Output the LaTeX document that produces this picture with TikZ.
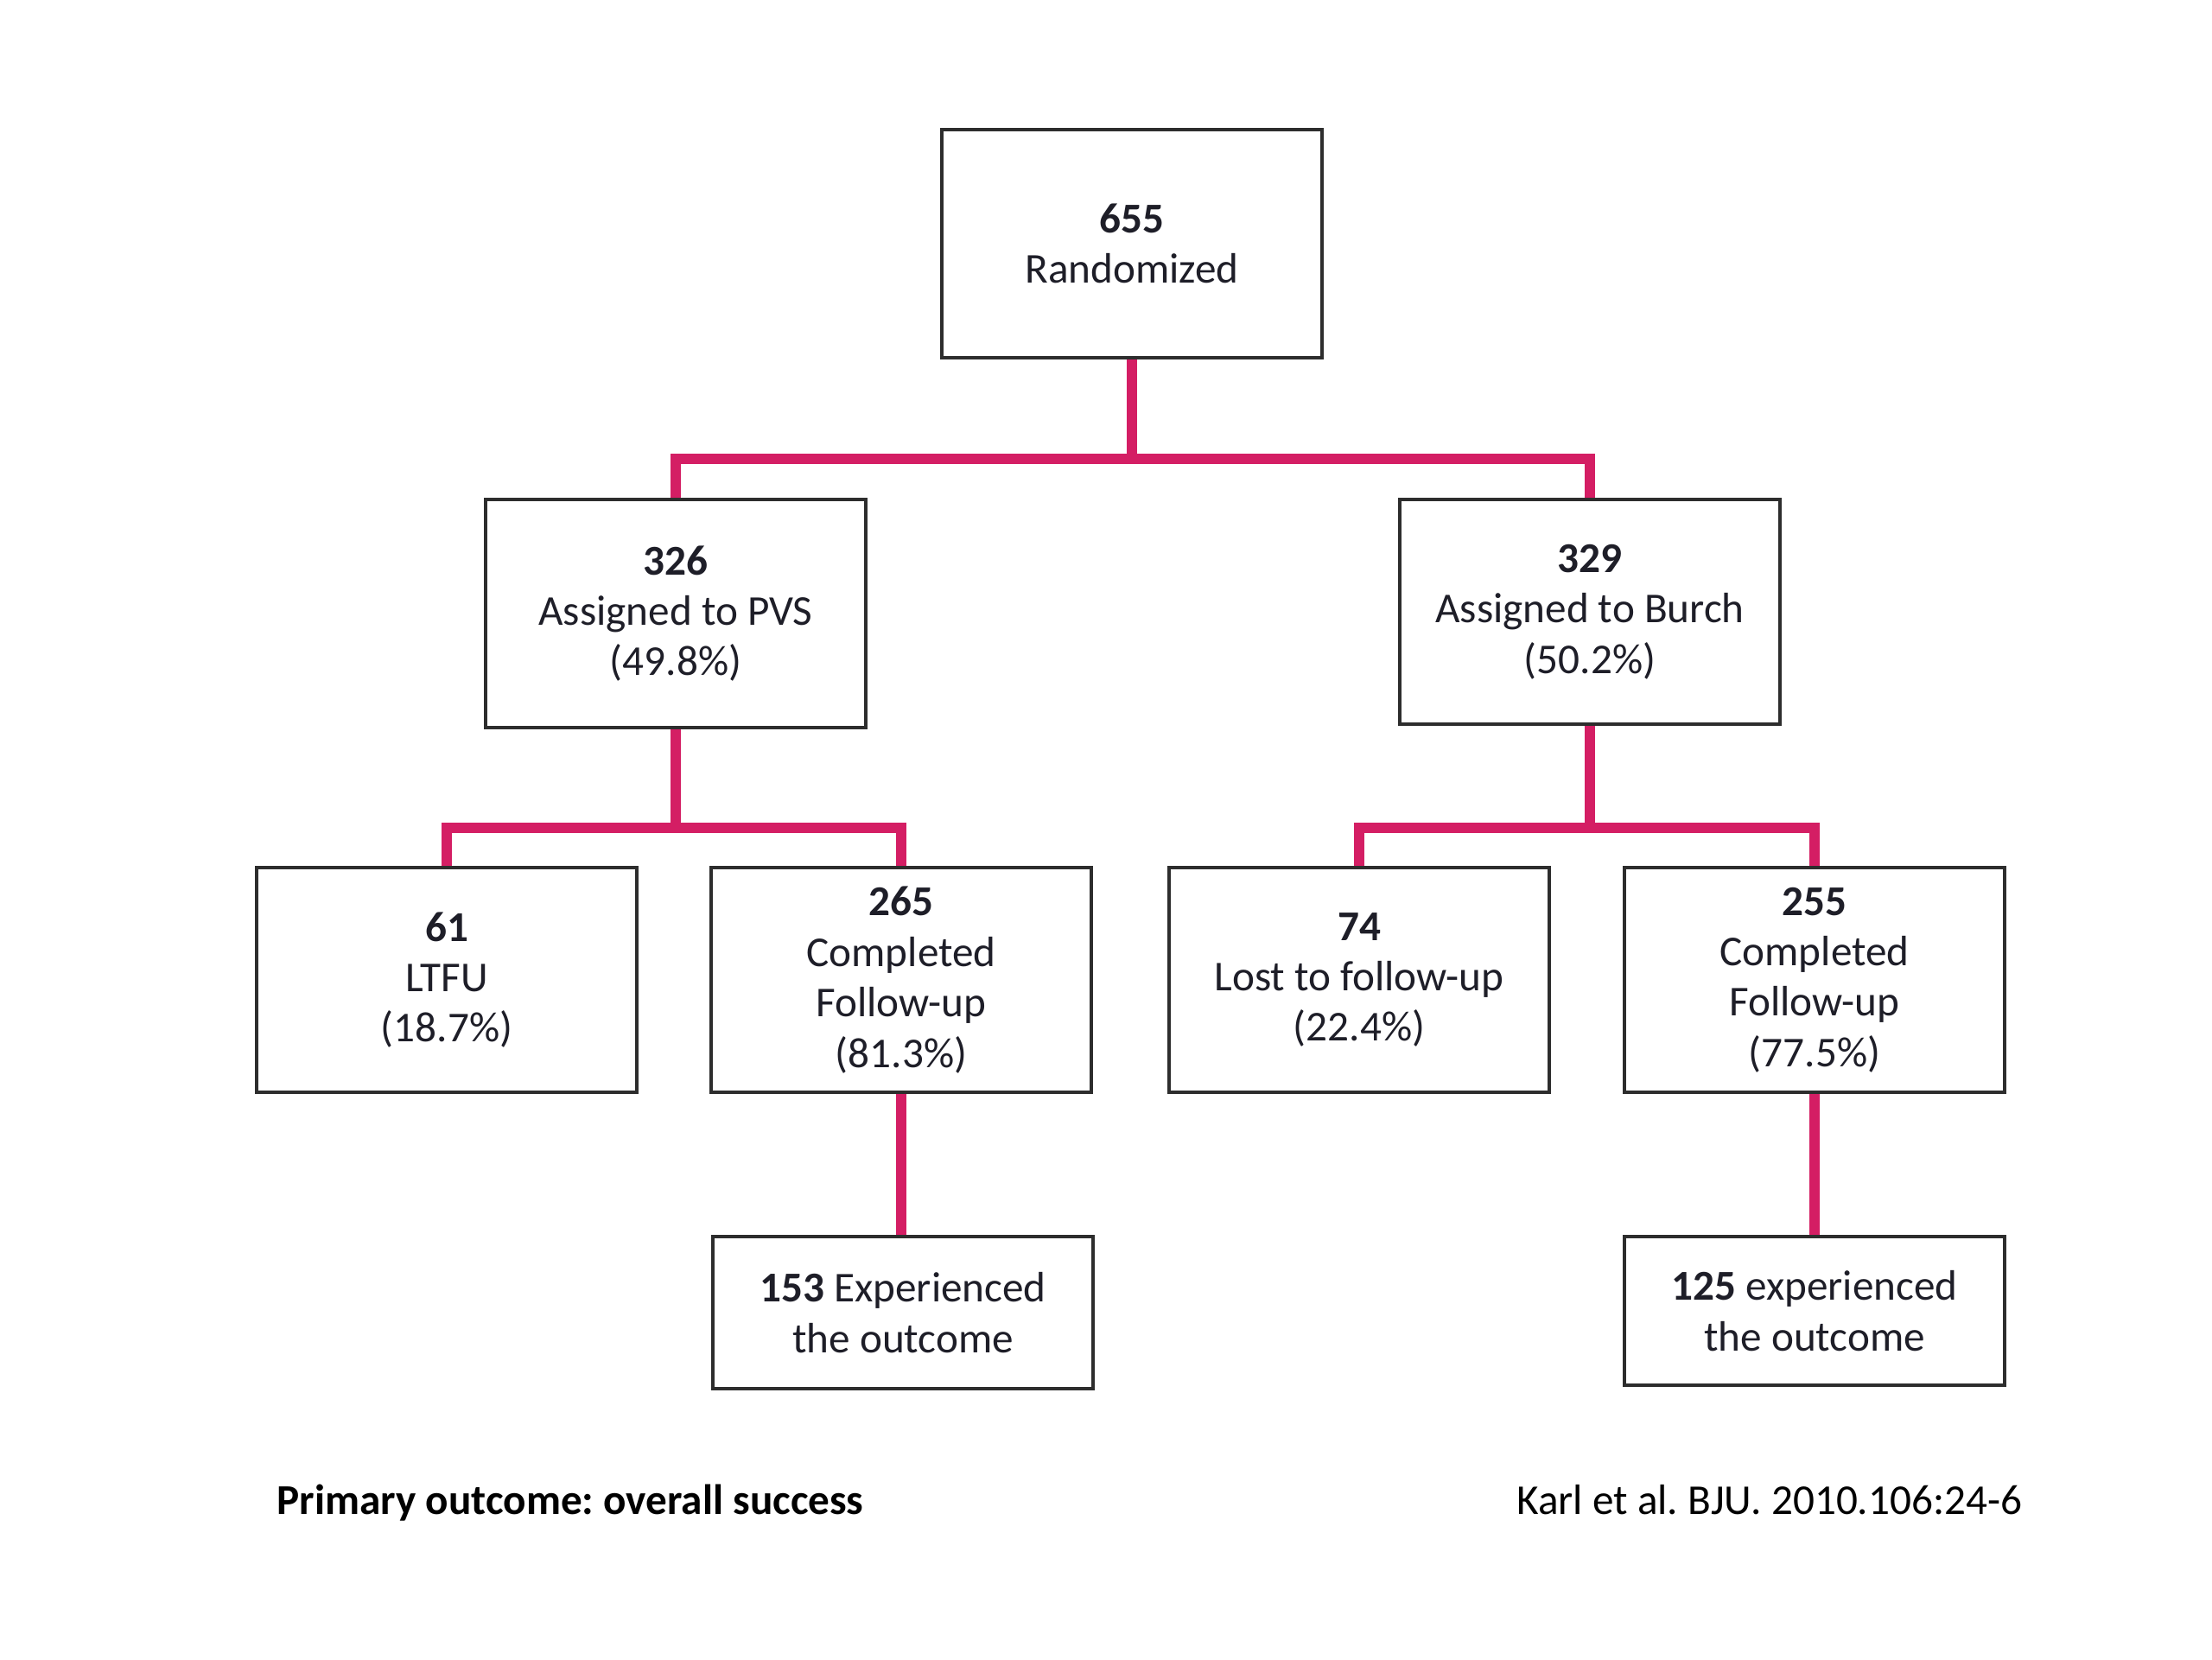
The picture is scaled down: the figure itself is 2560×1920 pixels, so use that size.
\documentclass[tikz,border=0pt]{standalone}
\usepackage{fontspec}
\setmainfont{Carlito}
\frenchspacing
\definecolor{pinkline}{RGB}{212,30,100}
\definecolor{boxline}{RGB}{45,45,45}
\definecolor{txt}{RGB}{30,30,40}
\begin{document}
\begin{tikzpicture}[x=0.25pt,y=-0.25pt,
  box/.style={draw=boxline,line width=1.2pt,fill=white,minimum width=110pt,align=center,
    text=txt,font=\fontsize{12.3}{14.6}\selectfont,inner sep=0pt},
  conn/.style={draw=pinkline,line width=2.8pt}]
\useasboundingbox (0,0) rectangle (2560,1920);
% bar coordinates
\coordinate (b1) at (1310,531);
\coordinate (b2) at (782,958);
\coordinate (b3) at (1840,958);
% boxes
\node[box,minimum height=66pt] (top) at (1310,282) {\textbf{655}\\Randomized};
\node[box,minimum height=66pt] (pvs) at (782,710) {\textbf{326}\\Assigned to PVS\\(49.8\%)};
\node[box,minimum height=65pt] (burch) at (1840,708) {\textbf{329}\\Assigned to Burch\\(50.2\%)};
\node[box,minimum height=65pt] (ltfu) at (517,1134) {\textbf{61}\\LTFU\\(18.7\%)};
\node[box,minimum height=65pt] (c265) at (1043,1134) {\textbf{265}\\Completed\\Follow-up\\(81.3\%)};
\node[box,minimum height=65pt] (lost) at (1573,1134) {\textbf{74}\\Lost to follow-up\\(22.4\%)};
\node[box,minimum height=65pt] (c255) at (2100,1134) {\textbf{255}\\Completed\\Follow-up\\(77.5\%)};
\node[box,minimum height=44pt] (e153) at (1045,1519) {\textbf{153} Experienced\\the outcome};
\node[box,minimum height=43pt] (e125) at (2100,1517) {\textbf{125} experienced\\the outcome};
% connectors
\draw[conn] (top.south) -- (b1);
\draw[conn] (b1) -| (pvs.north);
\draw[conn] (b1) -| (burch.north);
\draw[conn] (pvs.south) -- (b2);
\draw[conn] (b2) -| (ltfu.north);
\draw[conn] (b2) -| (c265.north);
\draw[conn] (burch.south) -- (b3);
\draw[conn] (b3) -| (lost.north);
\draw[conn] (b3) -| (c255.north);
\draw[conn] (c265.south) -- (e153.north -| c265.south);
\draw[conn] (c255.south) -- (e125.north);
% footer
\node[anchor=base west,font=\fontsize{12.3}{14}\selectfont\bfseries,inner sep=0pt] (foot1) at (320,1752) {Primary outcome: overall success};
\node[anchor=base east,font=\fontsize{12.3}{14}\selectfont,inner sep=0pt] (foot2) at (2341,1752) {Karl et al. BJU. 2010.106:24-6};
\end{tikzpicture}
\end{document}
